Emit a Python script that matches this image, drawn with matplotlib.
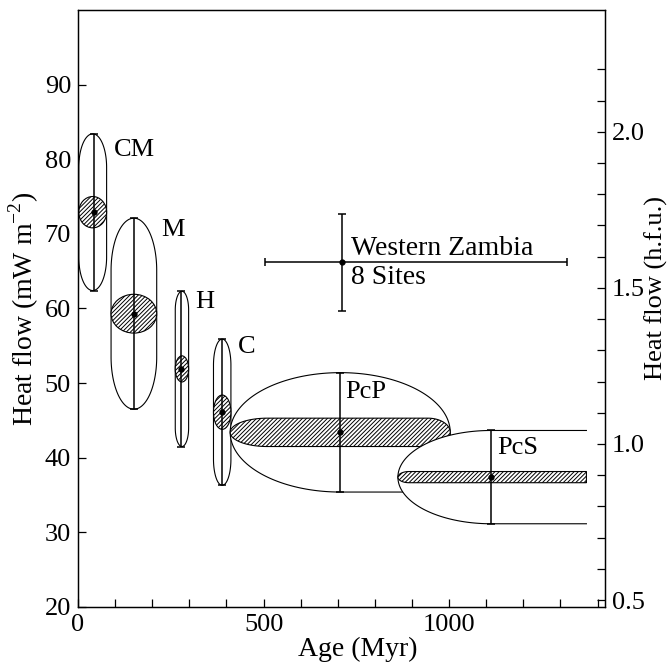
import numpy as np
import matplotlib
matplotlib.use('Agg')
import matplotlib.pyplot as plt
from matplotlib.patches import PathPatch, Ellipse
from matplotlib.path import Path
from matplotlib.ticker import MultipleLocator, FixedLocator

plt.rcParams['font.family'] = 'Liberation Serif'
plt.rcParams['mathtext.fontset'] = 'custom'
plt.rcParams['mathtext.rm'] = 'Liberation Serif'
plt.rcParams['hatch.linewidth'] = 0.7

# heat flow provinces
provinces = ['CM', 'M', 'H', 'C', 'PcP', 'PcS']
age_lo = [2, 89, 262, 365, 410, 862]
age_hi = [77, 212, 298, 412, 1003, 1370]
age_mean = [43, 150, 277, 387, 707, 1113]
hf_mean = [72.9, 59.3, 51.9, 46.1, 43.4, 37.4]
hf_sd = [10.5, 12.8, 10.4, 9.8, 8.0, 6.25]
hf_se = [2.1, 2.6, 1.75, 2.3, 1.9, 0.75]

# Western Zambia, 8 sites
wz_age, wz_age_lo, wz_age_hi = 710, 505, 1317
wz_hf, wz_hf_lo, wz_hf_hi = 66.2, 59.6, 72.6

HFU = 41.84  # mW m-2 per h.f.u.


def capsule(x0, x1, y0, y1, c_lb, c_lt, c_rt, c_rb, n=60):
    ym = (y0 + y1) / 2
    h = (y1 - y0) / 2
    t = np.linspace(0, np.pi / 2, n)
    p1 = np.c_[x0 + c_lb - c_lb * np.cos(t), ym - h * np.sin(t)]
    p2 = np.c_[x1 - c_rb + c_rb * np.sin(t), ym - h * np.cos(t)]
    p3 = np.c_[x1 - c_rt + c_rt * np.cos(t), ym + h * np.sin(t)]
    p4 = np.c_[x0 + c_lt - c_lt * np.sin(t), ym + h * np.cos(t)]
    return p1, p2, p3, p4


def closed(parts, swap=False):
    v = np.vstack(parts + (parts[0][:1],))
    if swap:
        v = v[:, ::-1]
    return Path(v, closed=True)


fig = plt.figure(figsize=(6.67, 6.63), dpi=100)
ax = fig.add_axes([0.117, 0.0845, 0.79, 0.9005])
ax.set_xlim(0, 1420)
ax.set_ylim(20, 100)

HATCH = '////////'

# vertical cap lengths (in mW m-2) for the young provinces
vcaps = [4.5, 7, 2.5, 3.5]

for i in range(4):
    lo, hi = hf_mean[i] - hf_sd[i], hf_mean[i] + hf_sd[i]
    c = vcaps[i]
    outer = closed(capsule(lo, hi, age_lo[i], age_hi[i], c, c, c, c), swap=True)
    ax.add_patch(PathPatch(outer, facecolor='white', edgecolor='black', lw=0.8, zorder=2 + i))
    ax.add_patch(Ellipse(((age_lo[i] + age_hi[i]) / 2, hf_mean[i]), age_hi[i] - age_lo[i],
                         2 * hf_se[i], facecolor='white', edgecolor='black', lw=0.8,
                         hatch=HATCH, zorder=2 + i))

# PcP
i = 4
lo, hi = hf_mean[i] - hf_sd[i], hf_mean[i] + hf_sd[i]
cl = age_mean[i] - age_lo[i]
cr = age_hi[i] - age_mean[i]
outer = closed(capsule(age_lo[i], age_hi[i], lo, hi, cl, cl, cr, 0))
ax.add_patch(PathPatch(outer, facecolor='white', edgecolor='black', lw=0.8, zorder=6))
inner = closed(capsule(age_lo[i], age_hi[i], hf_mean[i] - hf_se[i], hf_mean[i] + hf_se[i],
                       100, 100, 60, 60))
ax.add_patch(PathPatch(inner, facecolor='white', edgecolor='black', lw=0.8,
                       hatch=HATCH, zorder=6))

# PcS (open towards the right)
i = 5
lo, hi = hf_mean[i] - hf_sd[i], hf_mean[i] + hf_sd[i]
cl = age_mean[i] - age_lo[i]
p1, p2, p3, p4 = capsule(age_lo[i], age_hi[i], lo, hi, cl, cl, 0, 0)
ax.add_patch(PathPatch(closed((p1, p2, p3, p4)), facecolor='white', edgecolor='none', zorder=7))
edge = np.vstack([[age_hi[i], hi], p4, p1, [age_hi[i], lo]])
ax.plot(edge[:, 0], edge[:, 1], color='black', lw=0.8, zorder=7)
inner = closed(capsule(age_lo[i], age_hi[i], hf_mean[i] - hf_se[i], hf_mean[i] + hf_se[i],
                       30, 30, 0, 0))
ax.add_patch(PathPatch(inner, facecolor='white', edgecolor='black', lw=0.8,
                       hatch=HATCH, zorder=7))

# error bars and means
ax.errorbar(age_mean, hf_mean, yerr=hf_sd, fmt='o', color='black', ms=3.5,
            elinewidth=1.1, capsize=3, capthick=1.1, zorder=10)
ax.errorbar([wz_age], [wz_hf],
            xerr=[[wz_age - wz_age_lo], [wz_age_hi - wz_age]],
            yerr=[[wz_hf - wz_hf_lo], [wz_hf_hi - wz_hf]],
            fmt='o', color='black', ms=3.5, elinewidth=1.1, capsize=3, capthick=1.1, zorder=10)

label_xy = [(96, 81.3), (223, 70.5), (317, 60.8), (430, 54.8), (720, 48.8), (1129, 41.3)]
for name, (x, y) in zip(provinces, label_xy):
    ax.text(x, y, name, fontsize=19, ha='left', va='center', zorder=11)
ax.text(wz_age + 25, wz_hf + 0.1, 'Western Zambia', fontsize=20, ha='left', va='bottom', zorder=11)
ax.text(wz_age + 25, wz_hf - 0.4, '8 Sites', fontsize=20, ha='left', va='top', zorder=11)

ax.set_xticks([0, 500, 1000])
ax.xaxis.set_minor_locator(MultipleLocator(100))
ax.set_yticks(range(20, 100, 10))
ax.tick_params(which='both', direction='in', length=6, width=0.9, labelsize=19,
               top=False, right=False, pad=5)
ax.set_xlabel('Age (Myr)', fontsize=20)
ax.xaxis.set_label_coords(0.53, -0.05)
ax.set_ylabel('Heat flow (mW m$^{-2}$)', fontsize=20, labelpad=3)

ax2 = ax.twinx()
ax2.set_ylim(20 / HFU, 100 / HFU)
ax2.set_yticks([0.5, 1.0, 1.5, 2.0])
ax2.yaxis.set_minor_locator(FixedLocator(np.arange(0.6, 2.25, 0.1)))
ax2.tick_params(which='both', direction='in', length=6, width=0.9, labelsize=19, pad=5)
ax2.set_ylabel('Heat flow (h.f.u.)', fontsize=19, labelpad=0)
ax2.yaxis.label.set_y(0.535)

for a in (ax, ax2):
    for s in a.spines.values():
        s.set_linewidth(0.9)

fig.savefig('out.png', dpi=100)
